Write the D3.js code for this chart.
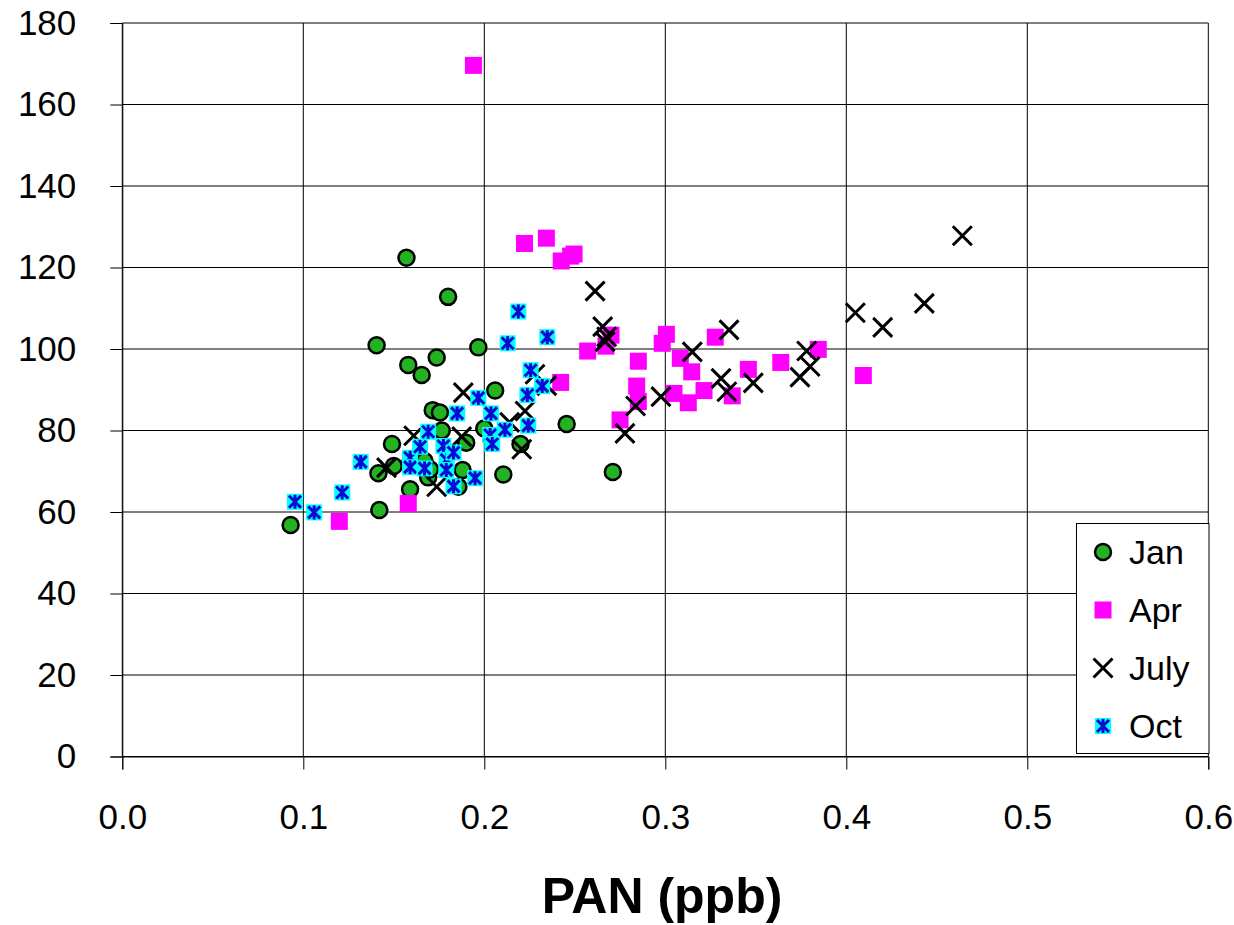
<!DOCTYPE html>
<html>
<head>
<meta charset="utf-8">
<script src="https://d3js.org/d3.v7.min.js"></script>
<style>
body { margin: 0; background: #fff; }
svg text { font-family: Arial, "Liberation Sans", sans-serif; fill: #000; }
</style>
</head>
<body>
<svg id="chart" width="1234" height="925"></svg>
<script>
var totalW = 1234;
var totalH = 925;

// PAN (ppb), value pairs
var janData = [
    [0.093, 56.8], [0.142, 60.5], [0.159, 65.6], [0.1415, 69.5], [0.150, 71.3],
    [0.159, 72.0], [0.149, 76.7], [0.169, 68.5], [0.1857, 66.2], [0.188, 70.3],
    [0.170, 70.5], [0.1765, 80.0], [0.190, 77.0], [0.200, 80.5], [0.1715, 85.0],
    [0.1755, 84.4], [0.206, 89.8], [0.1654, 93.6], [0.158, 96.1], [0.1737, 97.9],
    [0.1405, 100.9], [0.1967, 100.4], [0.180, 112.8], [0.157, 122.4], [0.2105, 69.2],
    [0.220, 76.7], [0.2455, 81.6], [0.271, 69.8], [0.167, 72.5]
];
var aprData = [
    [0.194, 169.6], [0.2222, 125.9], [0.2343, 127.2], [0.2425, 121.6], [0.2477, 122.8],
    [0.2496, 123.3], [0.2571, 99.5], [0.270, 103.4], [0.2672, 100.7], [0.2422, 91.8],
    [0.2851, 97.0], [0.2842, 90.9], [0.2851, 87.1], [0.275, 82.6], [0.3006, 103.6],
    [0.2983, 101.4], [0.3083, 97.7], [0.3146, 94.4], [0.3048, 89.1], [0.3127, 86.8],
    [0.3214, 89.8], [0.3276, 102.9], [0.337, 88.5], [0.3459, 95.0], [0.3638, 96.7],
    [0.3845, 99.9], [0.4094, 93.5], [0.1199, 57.7], [0.158, 62.1]
];
var julyData = [
    [0.146, 70.9], [0.161, 78.7], [0.1737, 66.2], [0.1875, 78.5], [0.1884, 89.3],
    [0.214, 82.0], [0.2207, 75.4], [0.2225, 84.8], [0.228, 93.8], [0.2345, 91.0],
    [0.2612, 114.2], [0.2654, 105.5], [0.2676, 103.0], [0.2667, 101.8], [0.2777, 79.3],
    [0.2836, 86.0], [0.2976, 88.3], [0.3149, 99.3], [0.3352, 104.7], [0.3308, 92.8],
    [0.334, 89.5], [0.3486, 91.7], [0.3781, 99.5], [0.380, 95.7], [0.3744, 93.1],
    [0.405, 108.9], [0.4201, 105.3], [0.4431, 111.2], [0.4641, 127.8]
];
var octData = [
    [0.0954, 62.5], [0.106, 59.9], [0.1215, 64.8], [0.1317, 72.3], [0.159, 73.3],
    [0.159, 71.0], [0.1645, 76.0], [0.167, 70.7], [0.169, 79.7], [0.1774, 76.2],
    [0.1792, 72.8], [0.183, 74.6], [0.179, 70.3], [0.183, 66.3], [0.185, 84.2],
    [0.1949, 68.3], [0.1967, 88.0], [0.2037, 84.2], [0.2032, 78.9], [0.2044, 76.7],
    [0.2114, 80.2], [0.2129, 101.4], [0.2188, 109.2], [0.2243, 81.2], [0.2238, 88.7],
    [0.2256, 94.8], [0.232, 90.9], [0.2348, 102.9]
];

var seriesNames = ['Jan', 'Apr', 'July', 'Oct'];
var xTicks = [0, 0.1, 0.2, 0.3, 0.4, 0.5, 0.6];
var yTicks = [0, 20, 40, 60, 80, 100, 120, 140, 160, 180];
var xTitle = 'PAN (ppb)';

var svg = d3.select('#chart');

var x = d3.scaleLinear().domain([0, 0.6]).range([122.3, 1208.3]);
var y = d3.scaleLinear().domain([0, 180]).range([756.5, 23]);

function drawGrid() {
    var gGrid = svg.append('g').attr('class', 'grid').attr('stroke', '#000').attr('stroke-width', 1);
    gGrid.selectAll('line.h').data(yTicks).enter().append('line')
        .attr('class', 'h')
        .attr('x1', x(0)).attr('x2', x(0.6))
        .attr('y1', function(d) { return y(d); })
        .attr('y2', function(d) { return y(d); });
    gGrid.selectAll('line.v').data(xTicks).enter().append('line')
        .attr('class', 'v')
        .attr('x1', function(d) { return x(d); })
        .attr('x2', function(d) { return x(d); })
        .attr('y1', y(0)).attr('y2', y(180));
}

function drawAxes() {
    var gx = svg.append('g')
        .attr('transform', 'translate(0,' + y(0) + ')')
        .call(d3.axisBottom(x).tickValues(xTicks).tickSize(13).tickPadding(35).tickFormat(d3.format('.1f')));
    var gy = svg.append('g')
        .attr('transform', 'translate(' + x(0) + ',0)')
        .call(d3.axisLeft(y).tickValues(yTicks).tickSize(12).tickPadding(34).tickFormat(d3.format('d')));

    [gx, gy].forEach(function(g) {
        g.select('.domain').attr('stroke', '#000');
        g.selectAll('.tick line').attr('stroke', '#000');
        g.selectAll('.tick text').attr('font-size', 35).attr('font-family', 'Arial, "Liberation Sans", sans-serif');
    });
    gy.selectAll('.tick text').attr('x', -46);

    svg.append('text')
        .attr('x', 662).attr('y', 913)
        .attr('text-anchor', 'middle')
        .attr('font-size', 50).attr('font-weight', 'bold')
        .text(xTitle);
}

function drawCircle(g, cx, cy) {
    g.append('circle').attr('cx', cx).attr('cy', cy).attr('r', 8)
        .attr('fill', '#22b222').attr('stroke', '#000').attr('stroke-width', 2.5);
}

function drawSquare(g, cx, cy) {
    g.append('rect').attr('x', cx - 8.5).attr('y', cy - 8.5).attr('width', 17).attr('height', 17)
        .attr('fill', '#ff00ff');
}

function drawCross(g, cx, cy) {
    var s = 9.5;
    g.append('path')
        .attr('d', 'M' + (cx - s) + ',' + (cy - s) + 'L' + (cx + s) + ',' + (cy + s) +
                   'M' + (cx - s) + ',' + (cy + s) + 'L' + (cx + s) + ',' + (cy - s))
        .attr('stroke', '#000').attr('stroke-width', 3).attr('fill', 'none');
}

function drawStar(g, cx, cy) {
    var h = 8;
    g.append('rect').attr('x', cx - h).attr('y', cy - h).attr('width', 2 * h).attr('height', 2 * h)
        .attr('fill', '#00ffff');
    var s = 6;
    g.append('path')
        .attr('d', 'M' + cx + ',' + (cy - h + 1) + 'L' + cx + ',' + (cy + h - 1) +
                   'M' + (cx - s) + ',' + (cy - s) + 'L' + (cx + s) + ',' + (cy + s) +
                   'M' + (cx - s) + ',' + (cy + s) + 'L' + (cx + s) + ',' + (cy - s))
        .attr('stroke', '#0a0ad2').attr('stroke-width', 3).attr('fill', 'none');
}

var markers = [drawCircle, drawSquare, drawCross, drawStar];

function drawSeries() {
    var all = [janData, aprData, julyData, octData];
    all.forEach(function(data, i) {
        var g = svg.append('g').attr('class', 'series ' + seriesNames[i]);
        data.forEach(function(d) {
            markers[i](g, x(d[0]), y(d[1]));
        });
    });
}

function drawLegend() {
    var gLeg = svg.append('g').attr('class', 'legend');
    gLeg.append('rect')
        .attr('x', 1076.5).attr('y', 523.5).attr('width', 132.5).attr('height', 230)
        .attr('fill', '#fff').attr('stroke', '#000').attr('stroke-width', 1);
    seriesNames.forEach(function(name, i) {
        var cy = 552 + i * 58;
        markers[i](gLeg, 1103, cy);
        gLeg.append('text')
            .attr('x', 1129).attr('y', cy + 12)
            .attr('font-size', 34)
            .text(name);
    });
}

drawGrid();
drawAxes();
drawSeries();
drawLegend();
</script>
</body>
</html>
